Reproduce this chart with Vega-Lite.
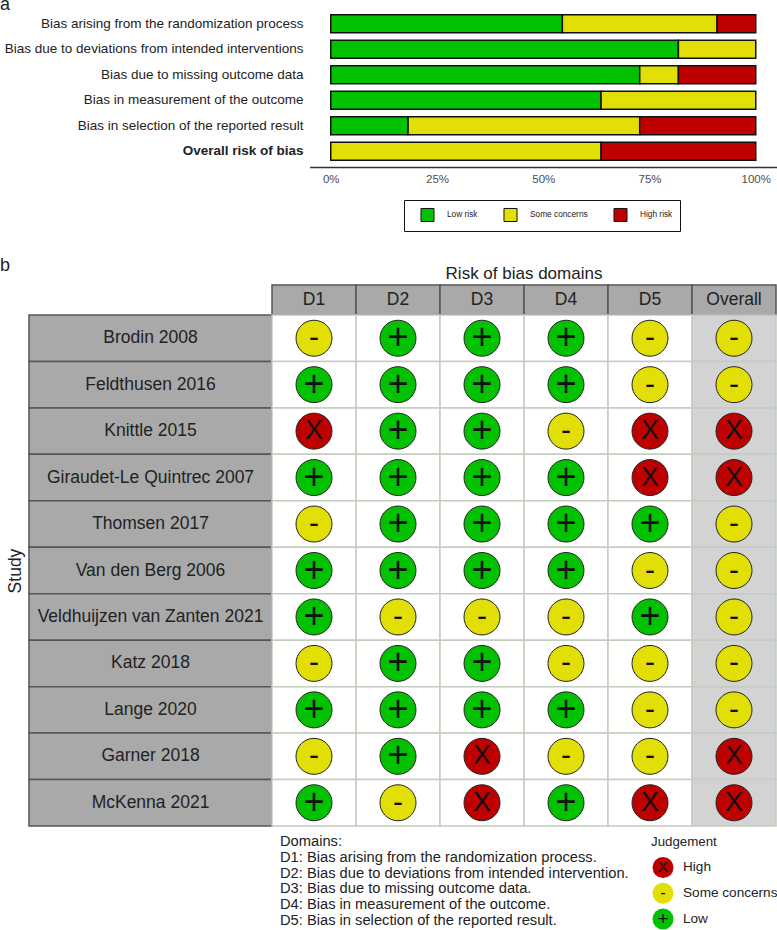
{"$schema":"https://vega.github.io/schema/vega-lite/v6.json","padding":{"top":-4,"left":0,"right":0,"bottom":0},"background":"white","bounds":"flush","spacing":118,
"config":{"view":{"stroke":null},"font":"Liberation Sans","title":{"font":"Liberation Sans","fontWeight":"normal","color":"#222"},"axis":{"labelFont":"Liberation Sans","titleFont":"Liberation Sans"},"legend":{"labelFont":"Liberation Sans"}},
"resolve":{"scale":{"color":"independent"}},
"datasets":{"bars":[
{"domain":"Bias arising from the randomization process","judgement":"Low risk","rank":1,"pct":54.5},
{"domain":"Bias arising from the randomization process","judgement":"Some concerns","rank":2,"pct":36.4},
{"domain":"Bias arising from the randomization process","judgement":"High risk","rank":3,"pct":9.1},
{"domain":"Bias due to deviations from intended interventions","judgement":"Low risk","rank":1,"pct":81.8},
{"domain":"Bias due to deviations from intended interventions","judgement":"Some concerns","rank":2,"pct":18.2},
{"domain":"Bias due to missing outcome data","judgement":"Low risk","rank":1,"pct":72.7},
{"domain":"Bias due to missing outcome data","judgement":"Some concerns","rank":2,"pct":9.1},
{"domain":"Bias due to missing outcome data","judgement":"High risk","rank":3,"pct":18.2},
{"domain":"Bias in measurement of the outcome","judgement":"Low risk","rank":1,"pct":63.6},
{"domain":"Bias in measurement of the outcome","judgement":"Some concerns","rank":2,"pct":36.4},
{"domain":"Bias in selection of the reported result","judgement":"Low risk","rank":1,"pct":18.2},
{"domain":"Bias in selection of the reported result","judgement":"Some concerns","rank":2,"pct":54.5},
{"domain":"Bias in selection of the reported result","judgement":"High risk","rank":3,"pct":27.3},
{"domain":"Overall risk of bias","judgement":"Some concerns","rank":2,"pct":63.6},
{"domain":"Overall risk of bias","judgement":"High risk","rank":3,"pct":36.4}],
"grid":[
{"study":"Brodin 2008","d":"D1","j":"Some concerns","s":"-"},{"study":"Brodin 2008","d":"D2","j":"Low","s":"+"},{"study":"Brodin 2008","d":"D3","j":"Low","s":"+"},{"study":"Brodin 2008","d":"D4","j":"Low","s":"+"},{"study":"Brodin 2008","d":"D5","j":"Some concerns","s":"-"},{"study":"Brodin 2008","d":"Overall","j":"Some concerns","s":"-"},
{"study":"Feldthusen 2016","d":"D1","j":"Low","s":"+"},{"study":"Feldthusen 2016","d":"D2","j":"Low","s":"+"},{"study":"Feldthusen 2016","d":"D3","j":"Low","s":"+"},{"study":"Feldthusen 2016","d":"D4","j":"Low","s":"+"},{"study":"Feldthusen 2016","d":"D5","j":"Some concerns","s":"-"},{"study":"Feldthusen 2016","d":"Overall","j":"Some concerns","s":"-"},
{"study":"Knittle 2015","d":"D1","j":"High","s":"X"},{"study":"Knittle 2015","d":"D2","j":"Low","s":"+"},{"study":"Knittle 2015","d":"D3","j":"Low","s":"+"},{"study":"Knittle 2015","d":"D4","j":"Some concerns","s":"-"},{"study":"Knittle 2015","d":"D5","j":"High","s":"X"},{"study":"Knittle 2015","d":"Overall","j":"High","s":"X"},
{"study":"Giraudet-Le Quintrec 2007","d":"D1","j":"Low","s":"+"},{"study":"Giraudet-Le Quintrec 2007","d":"D2","j":"Low","s":"+"},{"study":"Giraudet-Le Quintrec 2007","d":"D3","j":"Low","s":"+"},{"study":"Giraudet-Le Quintrec 2007","d":"D4","j":"Low","s":"+"},{"study":"Giraudet-Le Quintrec 2007","d":"D5","j":"High","s":"X"},{"study":"Giraudet-Le Quintrec 2007","d":"Overall","j":"High","s":"X"},
{"study":"Thomsen 2017","d":"D1","j":"Some concerns","s":"-"},{"study":"Thomsen 2017","d":"D2","j":"Low","s":"+"},{"study":"Thomsen 2017","d":"D3","j":"Low","s":"+"},{"study":"Thomsen 2017","d":"D4","j":"Low","s":"+"},{"study":"Thomsen 2017","d":"D5","j":"Low","s":"+"},{"study":"Thomsen 2017","d":"Overall","j":"Some concerns","s":"-"},
{"study":"Van den Berg 2006","d":"D1","j":"Low","s":"+"},{"study":"Van den Berg 2006","d":"D2","j":"Low","s":"+"},{"study":"Van den Berg 2006","d":"D3","j":"Low","s":"+"},{"study":"Van den Berg 2006","d":"D4","j":"Low","s":"+"},{"study":"Van den Berg 2006","d":"D5","j":"Some concerns","s":"-"},{"study":"Van den Berg 2006","d":"Overall","j":"Some concerns","s":"-"},
{"study":"Veldhuijzen van Zanten 2021","d":"D1","j":"Low","s":"+"},{"study":"Veldhuijzen van Zanten 2021","d":"D2","j":"Some concerns","s":"-"},{"study":"Veldhuijzen van Zanten 2021","d":"D3","j":"Some concerns","s":"-"},{"study":"Veldhuijzen van Zanten 2021","d":"D4","j":"Some concerns","s":"-"},{"study":"Veldhuijzen van Zanten 2021","d":"D5","j":"Low","s":"+"},{"study":"Veldhuijzen van Zanten 2021","d":"Overall","j":"Some concerns","s":"-"},
{"study":"Katz 2018","d":"D1","j":"Some concerns","s":"-"},{"study":"Katz 2018","d":"D2","j":"Low","s":"+"},{"study":"Katz 2018","d":"D3","j":"Low","s":"+"},{"study":"Katz 2018","d":"D4","j":"Some concerns","s":"-"},{"study":"Katz 2018","d":"D5","j":"Some concerns","s":"-"},{"study":"Katz 2018","d":"Overall","j":"Some concerns","s":"-"},
{"study":"Lange 2020","d":"D1","j":"Low","s":"+"},{"study":"Lange 2020","d":"D2","j":"Low","s":"+"},{"study":"Lange 2020","d":"D3","j":"Low","s":"+"},{"study":"Lange 2020","d":"D4","j":"Low","s":"+"},{"study":"Lange 2020","d":"D5","j":"Some concerns","s":"-"},{"study":"Lange 2020","d":"Overall","j":"Some concerns","s":"-"},
{"study":"Garner 2018","d":"D1","j":"Some concerns","s":"-"},{"study":"Garner 2018","d":"D2","j":"Low","s":"+"},{"study":"Garner 2018","d":"D3","j":"High","s":"X"},{"study":"Garner 2018","d":"D4","j":"Some concerns","s":"-"},{"study":"Garner 2018","d":"D5","j":"Some concerns","s":"-"},{"study":"Garner 2018","d":"Overall","j":"High","s":"X"},
{"study":"McKenna 2021","d":"D1","j":"Low","s":"+"},{"study":"McKenna 2021","d":"D2","j":"Some concerns","s":"-"},{"study":"McKenna 2021","d":"D3","j":"High","s":"X"},{"study":"McKenna 2021","d":"D4","j":"Low","s":"+"},{"study":"McKenna 2021","d":"D5","j":"High","s":"X"},{"study":"McKenna 2021","d":"Overall","j":"High","s":"X"}]},
"vconcat":[
{"width":777,"height":156,"title":{"text":"a","anchor":"start","fontSize":18,"offset":-3,"frame":"group"},
"data":{"name":"bars"},"mark":{"type":"bar","stroke":"#111","strokeWidth":1.5},
"encoding":{
"y":{"field":"domain","type":"nominal","sort":["Bias arising from the randomization process","Bias due to deviations from intended interventions","Bias due to missing outcome data","Bias in measurement of the outcome","Bias in selection of the reported result","Overall risk of bias"],"scale":{"range":[0,153],"paddingInner":0.29,"paddingOuter":0.145},
"axis":{"title":null,"orient":"left","offset":-303,"domain":false,"ticks":false,"labelPadding":0,"labelLimit":400,"labelFontSize":13.5,"labelColor":"#222","labelFontWeight":{"condition":{"test":"datum.value==='Overall risk of bias'","value":"bold"},"value":"normal"}}},
"x":{"field":"pct","type":"quantitative","stack":"zero","scale":{"domain":[-5,105],"range":[309.5,777],"nice":false,"zero":false},
"axis":{"title":null,"values":[0,25,50,75,100],"labelExpr":"datum.value+'%'","grid":false,"domainColor":"#333","domainWidth":1.5,"ticks":false,"labelPadding":6,"labelFontSize":11.5,"labelColor":"#4d4d4d"}},
"order":{"field":"rank","type":"quantitative"},
"color":{"field":"judgement","type":"nominal","scale":{"domain":["Low risk","Some concerns","High risk"],"range":["#02C100","#E2DF07","#BF0000"]},
"legend":{"title":null,"orient":"none","legendX":404,"legendY":189,"direction":"horizontal","columns":3,"symbolType":"square","symbolSize":170,"symbolOpacity":1,"symbolStrokeColor":"#111","symbolStrokeWidth":1,"labelFontSize":8.3,"labelColor":"#222","labelOffset":12,"columnPadding":16,"padding":7,"strokeColor":"#111","symbolOffset":9,"labelExpr":"datum.label==='Low risk'?'Low risk     ':datum.label==='High risk'?'High risk    ':datum.label"}}}},
{"concat":[
{"width":29,"height":30,"title":{"text":"b","anchor":"start","fontSize":18,"offset":10,"frame":"group"},"data":{"values":[]},"mark":"text","encoding":{}},
{"width":243,"height":30,"data":{"values":[]},"mark":"text","encoding":{}},
{"width":504,"height":30,"title":{"text":"Risk of bias domains","anchor":"middle","fontSize":17,"offset":1,"frame":"group"},
"data":{"values":[{"d":"D1"},{"d":"D2"},{"d":"D3"},{"d":"D4"},{"d":"D5"},{"d":"Overall"}]},
"encoding":{"x":{"field":"d","type":"nominal","sort":null,"scale":{"paddingInner":0,"paddingOuter":0},"axis":null}},
"layer":[{"mark":{"type":"rect","fill":"#A9A9A9","stroke":"#555","strokeWidth":1.5}},
{"mark":{"type":"text","fontSize":17.5,"color":"#222"},"encoding":{"text":{"field":"d"}}}]},
{"width":29,"height":511,"data":{"values":[]},"mark":"text","encoding":{}},
{"width":243,"height":511,
"data":{"values":[{"study":"Brodin 2008"},{"study":"Feldthusen 2016"},{"study":"Knittle 2015"},{"study":"Giraudet-Le Quintrec 2007"},{"study":"Thomsen 2017"},{"study":"Van den Berg 2006"},{"study":"Veldhuijzen van Zanten 2021"},{"study":"Katz 2018"},{"study":"Lange 2020"},{"study":"Garner 2018"},{"study":"McKenna 2021"}]},
"encoding":{"y":{"field":"study","type":"nominal","sort":null,"scale":{"paddingInner":0,"paddingOuter":0},"axis":{"labels":false,"ticks":false,"domain":false,"title":"Study","titleFontSize":17.5,"titleFontWeight":"normal","titleColor":"#222","titlePadding":5}}},
"layer":[{"mark":{"type":"rect","fill":"#A9A9A9","stroke":"#555","strokeWidth":1.5}},
{"mark":{"type":"text","fontSize":17.5,"color":"#222"},"encoding":{"text":{"field":"study"}}}]},
{"width":504,"height":511,
"title":{"text":["Domains:","D1: Bias arising from the randomization process.","D2: Bias due to deviations from intended intervention.","D3: Bias due to missing outcome data.","D4: Bias in measurement of the outcome.","D5: Bias in selection of the reported result."],"orient":"bottom","anchor":"start","frame":"group","dx":8,"offset":7,"fontSize":14.7,"lineHeight":15.9,"color":"#222"},
"data":{"name":"grid"},
"encoding":{"x":{"field":"d","type":"nominal","sort":["D1","D2","D3","D4","D5","Overall"],"scale":{"paddingInner":0,"paddingOuter":0},"axis":null},
"y":{"field":"study","type":"nominal","sort":null,"scale":{"domain":["Brodin 2008","Feldthusen 2016","Knittle 2015","Giraudet-Le Quintrec 2007","Thomsen 2017","Van den Berg 2006","Veldhuijzen van Zanten 2021","Katz 2018","Lange 2020","Garner 2018","McKenna 2021"],"paddingInner":0,"paddingOuter":0},"axis":null}},
"layer":[
{"mark":{"type":"rect","stroke":"#C5CCC0","strokeWidth":1.5},"encoding":{"fill":{"condition":{"test":"datum.d==='Overall'","value":"#D3D3D3"},"value":"#FFFFFF"}}},
{"mark":{"type":"point","filled":true,"stroke":"#222","strokeWidth":1,"opacity":1,"shape":"circle","size":1296},"encoding":{"fill":{"field":"j","type":"nominal","scale":{"domain":["High","Some concerns","Low"],"range":["#BF0000","#E2DF07","#02C100"]},"legend":null}}},
{"mark":{"type":"text","color":"#111"},"encoding":{"text":{"field":"s"},"size":{"condition":[{"test":"datum.s==='+'","value":36},{"test":"datum.s==='X'","value":27}],"value":30}}}]},
{"width":29,"height":100,"data":{"values":[]},"mark":"text","encoding":{}},
{"width":243,"height":100,"data":{"values":[]},"mark":"text","encoding":{}},
{"width":504,"height":100,
"data":{"values":[{"label":"Judgement"},{"label":"High","s":"X"},{"label":"Some concerns","s":"-"},{"label":"Low","s":"+"}]},
"encoding":{"x":{"datum":"key","type":"nominal","scale":{"type":"point","domain":["key"],"range":[391,391]},"axis":null},
"y":{"field":"label","type":"nominal","sort":null,"scale":{"type":"point","domain":["Judgement","High","Some concerns","Low"],"range":[15.7,93],"padding":0},"axis":null}},
"layer":[
{"transform":[{"filter":"datum.s"}],"mark":{"type":"point","filled":true,"opacity":1,"shape":"circle","size":441},"encoding":{"fill":{"field":"label","type":"nominal","scale":{"domain":["High","Some concerns","Low"],"range":["#BF0000","#E2DF07","#02C100"]},"legend":null}}},
{"transform":[{"filter":"datum.s"}],"mark":{"type":"text","color":"#111"},"encoding":{"text":{"field":"s"},"size":{"condition":[{"test":"datum.s==='+'","value":19},{"test":"datum.s==='X'","value":15}],"value":16}}},
{"transform":[{"filter":"datum.s"}],"mark":{"type":"text","align":"left","dx":20,"fontSize":13.6,"color":"#222"},"encoding":{"text":{"field":"label"}}},
{"transform":[{"filter":"!datum.s"}],"mark":{"type":"text","align":"left","dx":-12,"fontSize":13.3,"color":"#222"},"encoding":{"text":{"field":"label"}}}],
"resolve":{"scale":{"color":"independent"}}}
],"columns":3,"spacing":0,"bounds":"flush","resolve":{"scale":{"color":"independent","x":"independent","y":"independent"}}}
]}
